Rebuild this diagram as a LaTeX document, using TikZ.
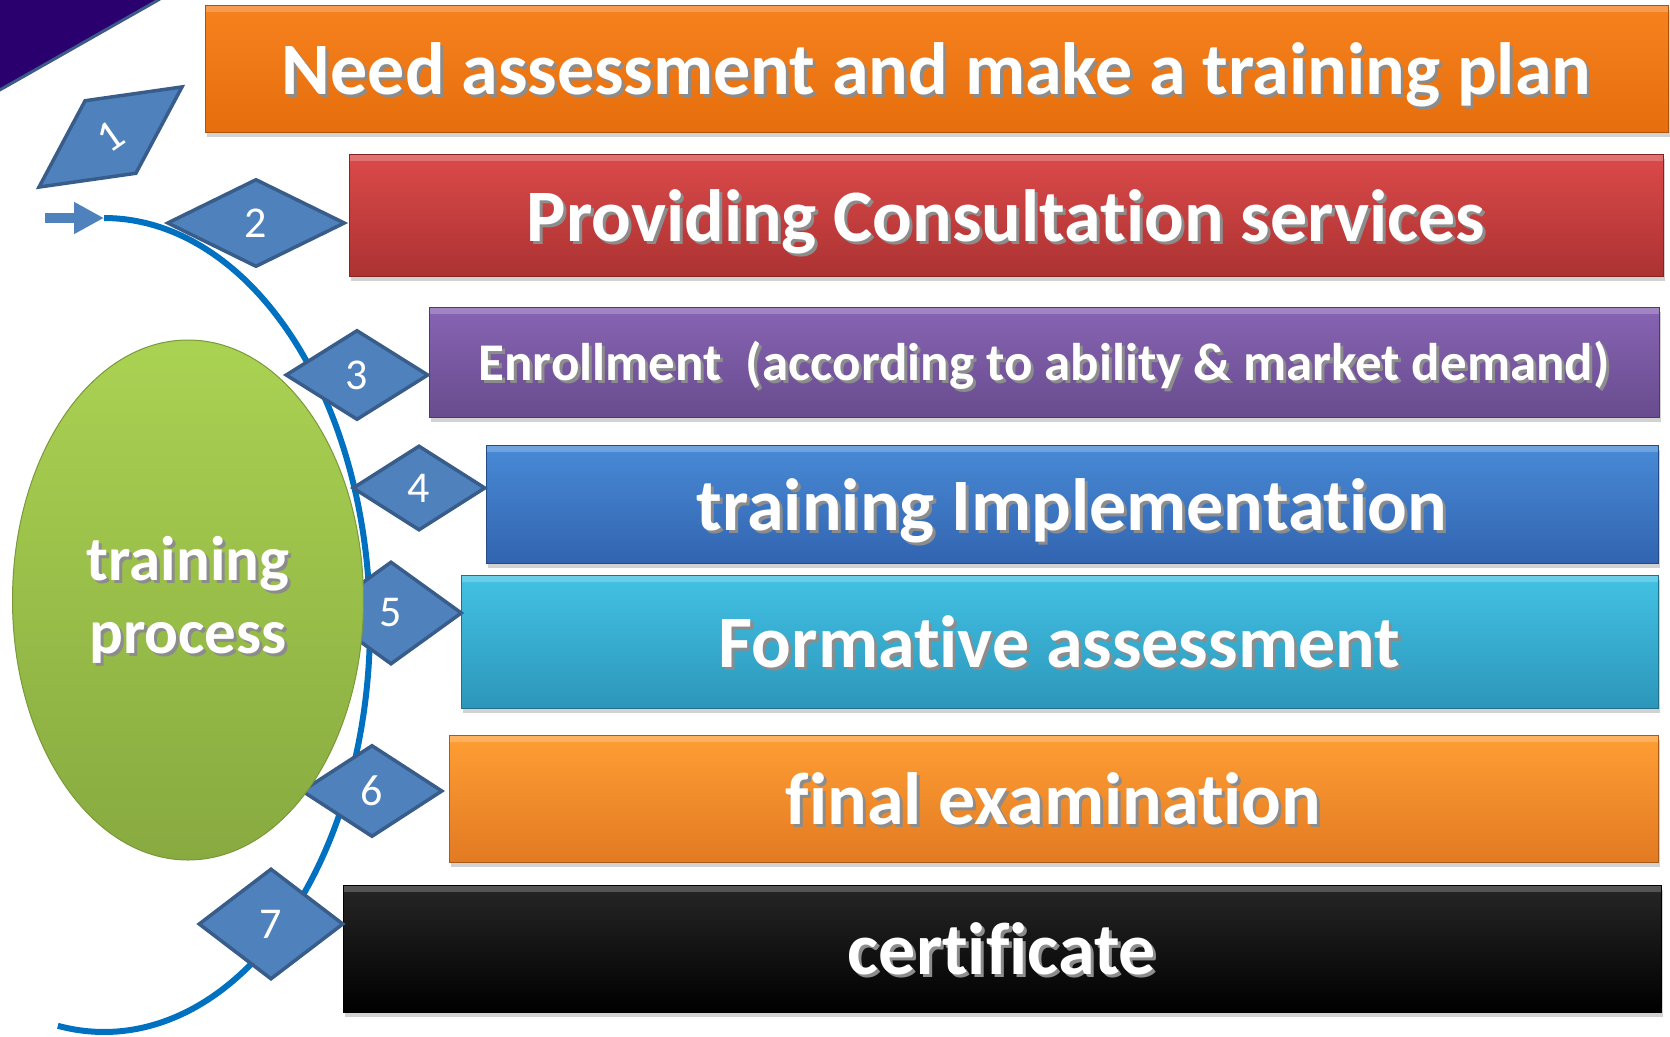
\documentclass[tikz,border=0pt]{standalone}
\usepackage{fontspec}
\setmainfont{Carlito}[Ligatures={NoCommon}]
\usetikzlibrary{arrows.meta, shapes.geometric, shadows}
\definecolor{diamblue}{RGB}{79,129,189}
\definecolor{diamedge}{RGB}{56,93,138}
\definecolor{arcblue}{RGB}{0,112,192}
\definecolor{cornerpurple}{RGB}{42,0,110}
\definecolor{corneredge}{RGB}{60,90,138}
\definecolor{orangetop}{RGB}{246,130,30}
\definecolor{orangebot}{RGB}{230,110,12}
\definecolor{redtop}{RGB}{220,74,74}
\definecolor{redbot}{RGB}{172,50,50}
\definecolor{purpletop}{RGB}{136,100,180}
\definecolor{purplebot}{RGB}{104,76,142}
\definecolor{bluetop}{RGB}{72,138,214}
\definecolor{bluebot}{RGB}{50,100,176}
\definecolor{cyantop}{RGB}{66,194,228}
\definecolor{cyanbot}{RGB}{44,150,186}
\definecolor{ltorangetop}{RGB}{255,158,52}
\definecolor{ltorangebot}{RGB}{226,122,34}
\definecolor{greentop}{RGB}{170,210,82}
\definecolor{greenbot}{RGB}{136,170,64}
\newcommand{\shtext}[1]{\makebox[0pt][l]{\smash{\kern3pt\raisebox{-3pt}{\color{black!45}#1}}}#1}

\begin{document}
\begin{tikzpicture}[x=1pt, y=-1pt,
    stepbar/.style 2 args={rectangle, top color=#1, bottom color=#2, draw=#2!75!black, line width=1pt,
        text=white, inner sep=0pt, text height=63pt, text depth=11pt,
        font=\fontsize{74}{80}\selectfont\bfseries,
        drop shadow={shadow xshift=2pt, shadow yshift=-5pt, fill=black!35, opacity=.5},
        path picture={\fill[white, opacity=.22] (path picture bounding box.north west) rectangle ([yshift=-7pt]path picture bounding box.north east);}},
    numdiam/.style={diamond, draw=diamedge, fill=diamblue, line width=3.5pt, inner sep=0pt,
        text=white, font=\fontsize{44}{44}\selectfont}]
    \useasboundingbox (0,0) rectangle (1670,1036);

    % corner
    \fill[cornerpurple] (0,0) -- (158,0) -- (0,90) -- cycle;
    \draw[corneredge, line width=3pt] (160,-1) -- (-2,91);

    % process arc and entry arrow
    \coordinate (arcstart) at (104,218);
    \coordinate (arrowtail) at (45,218);
    \draw[arcblue, line width=6pt] plot[domain=90:-100, samples=90, smooth] ({104+266*cos(\x)},{625-407*sin(\x)});
    \draw[diamblue, line width=10pt, -{Triangle[length=30pt, width=30pt]}] (arrowtail) -- (arcstart);

    % steps
    \node[stepbar={orangetop}{orangebot}, minimum width=1463pt, minimum height=127pt] (need) at (936.5,68.5) {\shtext{Need assessment and make a training plan}};
    \node[stepbar={redtop}{redbot}, minimum width=1314pt, minimum height=122pt] (consult) at (1006,215) {\shtext{Providing Consultation services}};
    \node[stepbar={purpletop}{purplebot}, minimum width=1230pt, minimum height=110pt, text height=45pt, text depth=8pt,
        font=\fontsize{53}{58}\selectfont\bfseries] (enrol) at (1044,362) {\shtext{Enrollment\ \ (according to ability \& market demand)}};
    \node[stepbar={bluetop}{bluebot}, minimum width=1172pt, minimum height=118pt] (implement) at (1072,504) {\shtext{training Implementation}};
    \node[stepbar={cyantop}{cyanbot}, minimum width=1197pt, minimum height=133pt] (formative) at (1059.5,641.5) {\shtext{Formative assessment}};
    \node[stepbar={ltorangetop}{ltorangebot}, minimum width=1209pt, minimum height=127pt] (exam) at (1053.5,798.5) {\shtext{final examination}};
    \node[stepbar={black!85}{black}, minimum width=1318pt, minimum height=127pt] (cert) at (1002,948.5) {\shtext{certificate}};

    % numbers
    \node[numdiam, minimum width=176pt, minimum height=90pt, rotate=35] (d1) at (110.5,137) {1};
    \node[numdiam, minimum width=178pt, minimum height=88pt] (d2) at (256,223) {2};
    \node[numdiam, minimum width=143pt, minimum height=90pt] (d3) at (357,375) {3};
    \node[numdiam, minimum width=133pt, minimum height=85pt] (d4) at (419,488) {4};
    \node[numdiam, minimum width=142pt, minimum height=103pt] (d5) at (391,613) {5};
    \node[numdiam, minimum width=141pt, minimum height=92pt] (d6) at (372,791) {6};
    \node[numdiam, minimum width=145pt, minimum height=111pt] (d7) at (271,924) {7};

    % centre
    \node[ellipse, minimum width=351pt, minimum height=520pt, top color=greentop, bottom color=greenbot,
        draw=greenbot!90!black, line width=1pt, text=white, align=center, inner sep=0pt,
        font=\fontsize{63}{73}\selectfont\bfseries] (proc) at (188,600) {\shtext{training}\\\shtext{process}};
\end{tikzpicture}
\end{document}
